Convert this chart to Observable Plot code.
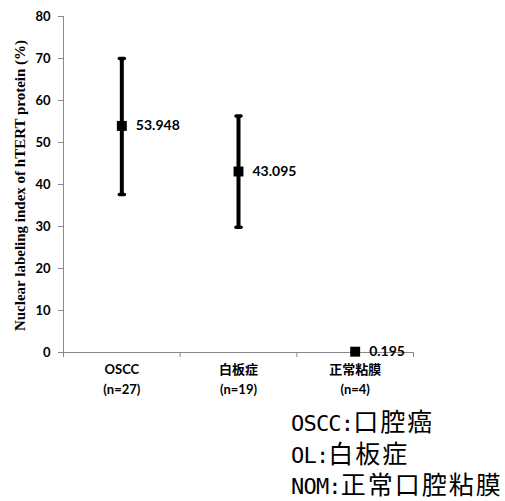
<!DOCTYPE html>
<html>
<head>
<meta charset="utf-8">
<script src="https://cdn.jsdelivr.net/npm/d3@7"></script>
<script src="https://cdn.jsdelivr.net/npm/@observablehq/plot@0.6"></script>
<style>
  body { margin: 0; background: #fff; }
  #wrap { position: relative; width: 505px; height: 501px; overflow: hidden; }
  #caption { position: absolute; left: 291px; top: 405px; white-space: nowrap; }
  #caption > div { height: 31.5px; line-height: 31.5px; }
  #caption .l { font-family: "DejaVu Sans Mono", monospace; font-size: 22px; letter-spacing: -0.8px; }
  #caption .c { font-family: "Noto Sans CJK JP", sans-serif; font-size: 25px; letter-spacing: 2px; }
</style>
</head>
<body>
<div id="wrap"><div id="chart"></div><div id="caption"></div></div>
<script>
const categories = ["OSCC", "白板症", "正常粘膜"];
const sampleSizes = ["(n=27)", "(n=19)", "(n=4)"];
const means = [53.948, 43.095, 0.195];
const meanLabels = ["53.948", "43.095", "0.195"];
const lows = [37.6, 29.8, 0.195];
const highs = [70.0, 56.3, 0.195];
const yTicks = [0, 10, 20, 30, 40, 50, 60, 70, 80];
const xBoundaries = [0, 1, 2, 3];
const yLabel = "Nuclear labeling index of hTERT protein (%)";
const captionAbbr = ["OSCC:", "OL:", "NOM:"];
const captionFull = ["口腔癌", "白板症", "正常口腔粘膜"];

const rows = categories.map((c, i) => ({
  c, n: sampleSizes[i], x: i + 0.5, mean: means[i], label: meanLabels[i], low: lows[i], high: highs[i]
}));
const bars = rows.filter(d => d.high > d.low);

const capSymbol = { draw(ctx) { ctx.moveTo(-2.5, 0); ctx.lineTo(2.5, 0); } };
const axisGray = "#898989";
const sans = "Lato, 'Noto Sans CJK SC', sans-serif";

const chart = Plot.plot({
  width: 505,
  height: 400,
  marginLeft: 63,
  marginRight: 92,
  marginTop: 16,
  marginBottom: 48,
  style: { fontFamily: sans, background: "#fff" },
  x: { domain: [0, 3], axis: null },
  y: { domain: [0, 80], axis: null },
  marks: [
    Plot.axisX({ ticks: xBoundaries, tickFormat: () => "", tickSize: 5, stroke: axisGray, label: null }),
    Plot.ruleY([0], { stroke: axisGray }),
    Plot.axisY({ ticks: yTicks, tickSize: 5, tickPadding: 8, stroke: axisGray, fill: "black",
                 fontWeight: "bold", fontSize: 13, label: null }),
    Plot.ruleX([0], { stroke: axisGray }),
    Plot.text([yLabel], { text: d => d, frameAnchor: "left", textAnchor: "middle", rotate: -90, dx: -43, dy: 1,
                          fontFamily: "'Liberation Serif', serif", fontWeight: "bold", fontSize: 15, fill: "black" }),
    Plot.ruleX(bars, { x: "x", y1: "low", y2: "high", stroke: "black", strokeWidth: 4 }),
    Plot.dot(bars, { x: "x", y: "low", symbol: capSymbol, stroke: "black", strokeWidth: 3.5, strokeLinecap: "round" }),
    Plot.dot(bars, { x: "x", y: "high", symbol: capSymbol, stroke: "black", strokeWidth: 3.5, strokeLinecap: "round" }),
    Plot.dot(rows, { x: "x", y: "mean", symbol: "square", r: 5.6, fill: "black", stroke: null }),
    Plot.text(rows, { x: "x", y: "mean", text: "label", dx: 14, textAnchor: "start",
                      fontWeight: "bold", fontSize: 14, fill: "black" }),
    Plot.text(rows, { x: "x", y: 0, text: "c", dy: 17, fontWeight: "bold", fontSize: 13, fill: "black",
                      fontFamily: "Lato, 'Noto Sans CJK SC', sans-serif" }),
    Plot.text(rows, { x: "x", y: 0, text: "n", dy: 37, fontWeight: "bold", fontSize: 13, fill: "black" })
  ]
});
document.getElementById("chart").appendChild(chart);

const cap = document.getElementById("caption");
captionAbbr.forEach((a, i) => {
  const line = document.createElement("div");
  const l = document.createElement("span"); l.className = "l"; l.textContent = a;
  const c = document.createElement("span"); c.className = "c"; c.textContent = captionFull[i];
  line.appendChild(l); line.appendChild(c);
  cap.appendChild(line);
});
</script>
</body>
</html>
